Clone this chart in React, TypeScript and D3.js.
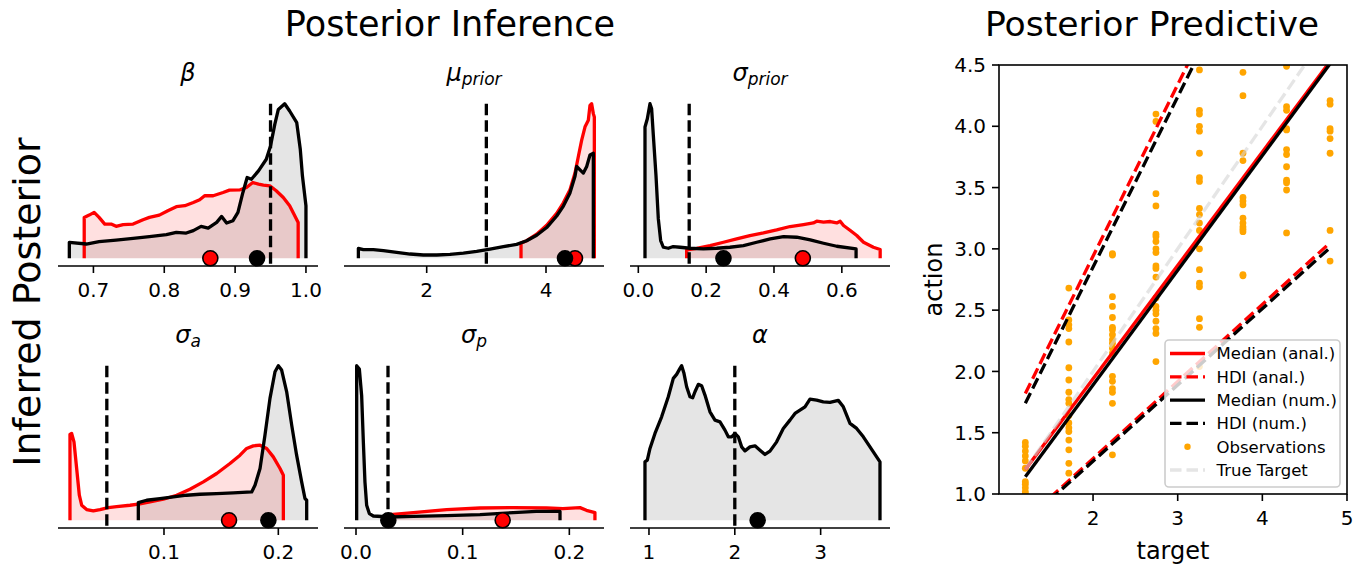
import React from "react";
import * as d3 from "d3";

// ---------------- Posterior densities (x grid, relative density) ----------------
// beta
const betaNumX = [0.666, 0.69, 0.708, 0.732, 0.756, 0.779, 0.803, 0.817, 0.831, 0.841, 0.852, 0.862, 0.874, 0.881, 0.888, 0.897, 0.904, 0.911, 0.917, 0.923, 0.933, 0.944, 0.95, 0.956, 0.961, 0.97, 0.977, 0.987, 0.992, 0.995, 1.0];
const betaNumD = [16, 14.3, 16.7, 18.3, 20, 21.7, 23.7, 26, 25.3, 27.7, 32, 30.3, 36, 42, 35.3, 37.7, 46, 66, 81, 79.3, 87.7, 99.3, 112.7, 134.3, 149.3, 155, 147.7, 136, 109.3, 82.7, 52.7];
const betaAnaX = [0.687, 0.694, 0.701, 0.708, 0.716, 0.725, 0.732, 0.742, 0.756, 0.77, 0.779, 0.793, 0.805, 0.817, 0.829, 0.841, 0.85, 0.857, 0.869, 0.883, 0.892, 0.907, 0.916, 0.925, 0.933, 0.94, 0.949, 0.958, 0.968, 0.977, 0.989];
const betaAnaD = [41, 43.3, 46, 41, 34.3, 34.3, 32, 33.7, 34.3, 38.7, 41, 43.3, 47.7, 51.7, 52.7, 56, 58.7, 62.7, 62.7, 66, 68.3, 68.7, 71, 76, 74.3, 73.3, 72.7, 67.7, 61, 52.7, 36];
const betaTrue = 0.95;
const betaMedNum = 0.931;
const betaMedAna = 0.865;
const betaTicks = [0.7, 0.8, 0.9, 1.0];
const betaTickLabels = ["0.7", "0.8", "0.9", "1.0"];

// mu_prior
const muNumX = [0.855, 0.939, 1.106, 1.274, 1.497, 1.721, 1.944, 2.168, 2.391, 2.615, 2.838, 3.061, 3.285, 3.508, 3.676, 3.844, 4.011, 4.179, 4.291, 4.402, 4.486, 4.514, 4.57, 4.626, 4.682, 4.737, 4.793];
const muNumD = [10, 8.7, 8.7, 7.7, 6, 4.3, 3.3, 3.3, 4, 5.3, 7, 9.3, 11.7, 14, 17.7, 23.3, 31, 42.7, 52.7, 66, 82.7, 92.7, 89.3, 86, 92.7, 104.3, 106];
const muAnaX = [3.581, 3.676, 3.844, 4.011, 4.179, 4.291, 4.402, 4.486, 4.542, 4.598, 4.654, 4.682, 4.709, 4.737, 4.765, 4.793, 4.81];
const muAnaD = [15.3, 17.7, 24.3, 33.3, 45.3, 56, 69.3, 86, 102.7, 119.3, 132.7, 136, 139.3, 154.3, 156, 146, 142.7];
const muTrue = 3.0;
const muMedNum = 4.318;
const muMedAna = 4.486;
const muTicks = [2, 4];
const muTickLabels = ["2", "4"];

// sigma_prior
const spNumX = [0.0197, 0.0266, 0.0344, 0.0393, 0.0443, 0.0521, 0.059, 0.0659, 0.0738, 0.0885, 0.103, 0.123, 0.152, 0.192, 0.231, 0.27, 0.31, 0.349, 0.389, 0.428, 0.467, 0.507, 0.546, 0.585, 0.642];
const spNumD = [131, 139.3, 154.3, 149.3, 122.7, 82.7, 39.3, 17.7, 11, 10, 11.7, 11, 10, 9.3, 10, 11, 12.7, 16, 19.3, 21.7, 21, 18.3, 15, 12, 9.3];
const spAnaX = [0.1426, 0.172, 0.2115, 0.251, 0.29, 0.329, 0.369, 0.408, 0.4475, 0.487, 0.516, 0.526, 0.546, 0.566, 0.585, 0.595, 0.605, 0.625, 0.644, 0.664, 0.693, 0.713];
const spAnaD = [8.3, 10, 12.7, 16, 19.3, 22.7, 25.3, 28.3, 31.7, 33.7, 35.3, 37, 36, 36.7, 35.3, 37, 32.7, 27.7, 22.7, 16, 11, 8.7];
const spTrue = 0.15;
const spMedNum = 0.251;
const spMedAna = 0.485;
const spTicks = [0.0, 0.2, 0.4, 0.6];
const spTickLabels = ["0.0", "0.2", "0.4", "0.6"];

// sigma_a
const saNumX = [0.07755, 0.08484, 0.0965, 0.1082, 0.1198, 0.1315, 0.1461, 0.1606, 0.1767, 0.1796, 0.184, 0.1883, 0.1927, 0.1971, 0.2, 0.2029, 0.2073, 0.2117, 0.216, 0.2204, 0.2233, 0.2248];
const saNumD = [17.7, 20, 21.7, 23.3, 25, 26, 26.7, 27.3, 28.3, 35, 51.7, 85, 121.7, 148.3, 154.3, 150, 128.3, 95, 65, 38.3, 21.7, 20];
const saAnaX = [0.01778, 0.01924, 0.02128, 0.02362, 0.02595, 0.028, 0.03236, 0.03819, 0.04402, 0.05131, 0.0586, 0.07026, 0.079, 0.08776, 0.09942, 0.1111, 0.1227, 0.1344, 0.1461, 0.1577, 0.1665, 0.1723, 0.1781, 0.184, 0.1898, 0.1956, 0.2015, 0.2044];
const saAnaD = [85.7, 86.7, 78.3, 51.7, 25, 15, 10.7, 9.3, 10.7, 12.7, 13.7, 15, 16.3, 18.3, 21, 25, 31, 38.3, 46.7, 56.7, 65, 71.7, 74.3, 75, 71.7, 63.3, 51.7, 45];
const saTrue = 0.05;
const saMedNum = 0.1913;
const saMedAna = 0.1569;
const saTicks = [0.1, 0.2];
const saTickLabels = ["0.1", "0.2"];

// sigma_p
const sgpNumX = [0.000625, 0.003125, 0.0053, 0.0069, 0.0084, 0.01, 0.0125, 0.01625, 0.0319, 0.05375, 0.085, 0.11625, 0.1475, 0.169, 0.19125];
const sgpNumD = [155, 151.7, 125, 78.3, 38.3, 15, 6.7, 4.3, 3.3, 4, 4.7, 5.7, 7.7, 9, 9];
const sgpAnaX = [0.0319, 0.05375, 0.085, 0.11625, 0.1475, 0.17875, 0.194, 0.21, 0.216, 0.224];
const sgpAnaD = [5.7, 7.7, 10.7, 12.3, 12.7, 12.3, 11.7, 12.7, 10, 7.7];
const sgpTrue = 0.03;
const sgpMedNum = 0.0303;
const sgpMedAna = 0.1375;
const sgpTicks = [0.0, 0.1, 0.2];
const sgpTickLabels = ["0.0", "0.1", "0.2"];

// alpha
const alNumX = [0.9534, 0.9806, 1.0117, 1.0699, 1.1476, 1.2252, 1.2835, 1.3223, 1.3612, 1.3806, 1.4078, 1.4388, 1.4777, 1.5087, 1.5359, 1.5748, 1.6136, 1.6524, 1.7107, 1.7689, 1.8272, 1.8854, 1.9243, 1.9631, 2.0019, 2.0408, 2.0796, 2.1184, 2.1767, 2.235, 2.2932, 2.3515, 2.4097, 2.4874, 2.565, 2.6427, 2.701, 2.7592, 2.8175, 2.8757, 2.9534, 3.0311, 3.1087, 3.2058, 3.2641, 3.3417, 3.4194, 3.4971, 3.5748, 3.6524, 3.6913];
const alNumD = [58.3, 60, 71.7, 86.7, 103.3, 123.3, 141.7, 145.7, 151.7, 154.3, 146.7, 133.3, 123.3, 122.3, 128.3, 135.7, 134.3, 125, 108.3, 100, 98.3, 90, 83.3, 83.3, 86.7, 83.3, 73.3, 69.3, 73.3, 74.3, 70, 65.7, 69, 78.3, 91.7, 100, 106.7, 110, 113.3, 121, 120, 118.3, 117.7, 119.7, 113.3, 96.7, 91.7, 83.3, 73.3, 63.3, 58.3];
const alTrue = 2.0;
const alMedNum = 2.266;
const alTicks = [1, 2, 3];
const alTickLabels = ["1", "2", "3"];

// ---------------- Posterior predictive ----------------
const obsTargets = [1.2, 1.714, 2.229, 2.743, 3.257, 3.771, 4.286, 4.8];
const obsCol1 = [1.42, 1.39, 1.35, 1.31, 1.27, 1.21, 1.1, 1.08, 1.05, 1.02, 1.0];
const obsCol2 = [2.68, 2.42, 2.38, 2.35, 2.24, 2.03, 1.93, 1.83, 1.77, 1.74, 1.64, 1.58, 1.54, 1.51, 1.44, 1.36, 1.25, 1.17];
const obsCol3 = [2.96, 2.95, 2.61, 2.53, 2.44, 2.36, 2.34, 2.3, 2.26, 2.23, 2.19, 2.15, 1.96, 1.92, 1.86, 1.83, 1.74, 1.32];
const obsCol4 = [4.1, 4.04, 3.45, 3.35, 3.12, 3.1, 3.06, 3.0, 2.97, 2.86, 2.84, 2.77, 2.6, 2.53, 2.5, 2.47, 2.41, 2.35, 2.31, 2.08];
const obsCol5 = [4.46, 4.13, 4.1, 4.0, 3.96, 3.78, 3.58, 3.55, 3.33, 3.28, 3.21, 3.15, 3.0, 2.83, 2.72, 2.69, 2.43, 2.36, 2.04];
const obsCol6 = [4.44, 4.25, 3.78, 3.72, 3.42, 3.39, 3.36, 3.25, 3.21, 3.18, 3.16, 3.14, 2.79, 2.78];
const obsCol7 = [4.49, 4.16, 4.13, 3.98, 3.97, 3.81, 3.77, 3.67, 3.56, 3.54, 3.48, 3.13];
const obsCol8 = [4.21, 4.18, 3.98, 3.96, 3.9, 3.78, 3.15, 2.9];
const obsColumns = [obsCol1, obsCol2, obsCol3, obsCol4, obsCol5, obsCol6, obsCol7, obsCol8];

const lineX = [1.2, 4.8];
const medianAnal = [1.2, 4.53];
const hdiAnalUpper = [1.82, 6.86];
const hdiAnalLower = [0.786, 3.05];
const medianNum = [1.14, 4.51];
const hdiNumUpper = [1.74, 6.74];
const hdiNumLower = [0.77, 3.01];
const trueTarget = [1.2, 4.8];

const predXTicks = [2, 3, 4, 5];
const predYTicks = [1.0, 1.5, 2.0, 2.5, 3.0, 3.5, 4.0, 4.5];
const legendLabels = ["Median (anal.)", "HDI (anal.)", "Median (num.)", "HDI (num.)", "Observations", "True Target"];

// ---------------- layout ----------------
const FONT = "DejaVu Sans";
const COLS = [58, 344, 630];
const W = 260;
const ROWS = [{ top: 96, bottom: 266 }, { top: 358, bottom: 528 }];
const LW = 3.3;
const DASH = "11.5,5";

type TitleSpec = { main: string; sub?: string };

type PanelSpec = {
  title: TitleSpec;
  domain: [number, number];
  numX: number[];
  numD: number[];
  anaX?: number[];
  anaD?: number[];
  truth: number;
  medNum: number;
  medAna?: number;
  ticks: number[];
  tickLabels: string[];
  col: number;
  row: number;
};

const panels: PanelSpec[] = [
  { title: { main: "β" }, domain: [0.65, 1.017], numX: betaNumX, numD: betaNumD, anaX: betaAnaX, anaD: betaAnaD, truth: betaTrue, medNum: betaMedNum, medAna: betaMedAna, ticks: betaTicks, tickLabels: betaTickLabels, col: 0, row: 0 },
  { title: { main: "μ", sub: "prior" }, domain: [0.614, 4.972], numX: muNumX, numD: muNumD, anaX: muAnaX, anaD: muAnaD, truth: muTrue, medNum: muMedNum, medAna: muMedAna, ticks: muTicks, tickLabels: muTickLabels, col: 1, row: 0 },
  { title: { main: "σ", sub: "prior" }, domain: [-0.0245, 0.742], numX: spNumX, numD: spNumD, anaX: spAnaX, anaD: spAnaD, truth: spTrue, medNum: spMedNum, medAna: spMedAna, ticks: spTicks, tickLabels: spTickLabels, col: 2, row: 0 },
  { title: { main: "σ", sub: "a" }, domain: [0.0073, 0.2347], numX: saNumX, numD: saNumD, anaX: saAnaX, anaD: saAnaD, truth: saTrue, medNum: saMedNum, medAna: saMedAna, ticks: saTicks, tickLabels: saTickLabels, col: 0, row: 1 },
  { title: { main: "σ", sub: "p" }, domain: [-0.01125, 0.2325], numX: sgpNumX, numD: sgpNumD, anaX: sgpAnaX, anaD: sgpAnaD, truth: sgpTrue, medNum: sgpMedNum, medAna: sgpMedAna, ticks: sgpTicks, tickLabels: sgpTickLabels, col: 1, row: 1 },
  { title: { main: "α" }, domain: [0.779, 3.808], numX: alNumX, numD: alNumD, truth: alTrue, medNum: alMedNum, ticks: alTicks, tickLabels: alTickLabels, col: 2, row: 1 },
];

type Pt = [number, number];

function DensityPanel({ p }: { p: PanelSpec }) {
  const left = COLS[p.col];
  const { top, bottom } = ROWS[p.row];
  const x = d3.scaleLinear().domain(p.domain).range([left, left + W]);
  const M = d3.max([...p.numD, ...(p.anaD || [])]) as number;
  const y = d3.scaleLinear().domain([-0.05 * M, 1.05 * M]).range([bottom, top]);
  const area = d3.area<Pt>().x((d) => x(d[0])).y0(y(0)).y1((d) => y(d[1]));
  const line = d3.line<Pt>().x((d) => x(d[0])).y((d) => y(d[1]));
  const pts = (xs: number[], ds: number[]): Pt[] => xs.map((v, i) => [v, ds[i]] as Pt);
  const closed = (ps: Pt[]): Pt[] => [[ps[0][0], 0], ...ps, [ps[ps.length - 1][0], 0]];
  const numPts = pts(p.numX, p.numD);
  const anaPts = p.anaX && p.anaD ? pts(p.anaX, p.anaD) : null;
  const cx = left + W / 2;
  return (
    <g>
      <path d={area(numPts) || ""} fill="#000" fillOpacity={0.1} />
      {anaPts && <path d={area(anaPts) || ""} fill="red" fillOpacity={0.12} />}
      {anaPts && <path d={line(closed(anaPts)) || ""} fill="none" stroke="red" strokeWidth={LW} strokeLinejoin="round" />}
      <path d={line(closed(numPts)) || ""} fill="none" stroke="#000" strokeWidth={LW} strokeLinejoin="round" />
      <line x1={x(p.truth)} x2={x(p.truth)} y1={y(M)} y2={bottom} stroke="#000" strokeWidth={LW} strokeDasharray={DASH} />
      {p.medAna !== undefined && <circle cx={x(p.medAna)} cy={y(0)} r={7.5} fill="red" stroke="#000" strokeWidth={1.6} />}
      <circle cx={x(p.medNum)} cy={y(0)} r={7.5} fill="#000" stroke="#000" strokeWidth={1.6} />
      <line x1={left} x2={left + W} y1={bottom} y2={bottom} stroke="#000" strokeWidth={1.6} />
      {p.ticks.map((t, i) => (
        <g key={i}>
          <line x1={x(t)} x2={x(t)} y1={bottom} y2={bottom + 7} stroke="#000" strokeWidth={1.6} />
          <text x={x(t)} y={bottom + 30.5} fontSize={20} textAnchor="middle" fill="#000">{p.tickLabels[i]}</text>
        </g>
      ))}
      <text x={cx} y={top - 15} fontSize={24} textAnchor="middle" fontStyle="italic" fill="#000">
        {p.title.main}
        {p.title.sub && <tspan fontSize={17} dy={4}>{p.title.sub}</tspan>}
      </text>
    </g>
  );
}

function Predictive() {
  const L = 999, R = 1347, T = 65, B = 494;
  const x = d3.scaleLinear().domain([0.889, 5.0]).range([L, R]);
  const y = d3.scaleLinear().domain([1.0, 4.5]).range([B, T]);
  const line = d3.line<Pt>().x((d) => x(d[0])).y((d) => y(d[1]));
  const seg = (ys: number[]) => line(lineX.map((v, i) => [v, ys[i]] as Pt)) || "";
  const lines = [
    { ys: medianAnal, color: "red", dash: undefined as string | undefined },
    { ys: hdiAnalUpper, color: "red", dash: DASH },
    { ys: hdiAnalLower, color: "red", dash: DASH },
    { ys: medianNum, color: "#000", dash: undefined },
    { ys: hdiNumUpper, color: "#000", dash: DASH },
    { ys: hdiNumLower, color: "#000", dash: DASH },
  ];
  const legX = 1165, legY = 340, legW = 175, legH = 147;
  const rowY = (i: number) => 353.5 + i * 23.3;
  return (
    <g>
      <defs>
        <clipPath id="predclip">
          <rect x={L} y={T} width={R - L} height={B - T} />
        </clipPath>
      </defs>
      <g clipPath="url(#predclip)">
        {obsColumns.map((col, j) =>
          col.map((v, i) => <circle key={`${j}-${i}`} cx={x(obsTargets[j])} cy={y(v)} r={3.4} fill="orange" />)
        )}
        {lines.map((l, i) => (
          <path key={i} d={seg(l.ys)} fill="none" stroke={l.color} strokeWidth={LW} strokeDasharray={l.dash} />
        ))}
        <path d={seg(trueTarget)} fill="none" stroke="#d3d3d3" strokeOpacity={0.6} strokeWidth={LW} strokeDasharray={DASH} />
      </g>
      <rect x={L} y={T} width={R - L} height={B - T} fill="none" stroke="#000" strokeWidth={1.6} />
      {predXTicks.map((t) => (
        <g key={t}>
          <line x1={x(t)} x2={x(t)} y1={B} y2={B + 7} stroke="#000" strokeWidth={1.6} />
          <text x={x(t)} y={B + 30.5} fontSize={20} textAnchor="middle">{String(t)}</text>
        </g>
      ))}
      {predYTicks.map((t) => (
        <g key={t}>
          <line x1={L - 7} x2={L} y1={y(t)} y2={y(t)} stroke="#000" strokeWidth={1.6} />
          <text x={L - 13} y={y(t)} dy="0.36em" fontSize={20} textAnchor="end">{t.toFixed(1)}</text>
        </g>
      ))}
      <text x={(L + R) / 2} y={559} fontSize={24} textAnchor="middle">target</text>
      <text transform={`translate(942,${(T + B) / 2}) rotate(-90)`} fontSize={24} textAnchor="middle">action</text>
      <rect x={legX} y={legY} width={legW} height={legH} rx={4} fill="#fff" fillOpacity={0.8} stroke="#cccccc" strokeWidth={1.6} />
      {legendLabels.map((lab, i) => {
        const yy = rowY(i);
        let sym: React.ReactNode = null;
        if (i === 0) sym = <line x1={1170} x2={1205} y1={yy} y2={yy} stroke="red" strokeWidth={LW} />;
        if (i === 1) sym = <line x1={1170} x2={1205} y1={yy} y2={yy} stroke="red" strokeWidth={LW} strokeDasharray={DASH} />;
        if (i === 2) sym = <line x1={1170} x2={1205} y1={yy} y2={yy} stroke="#000" strokeWidth={LW} />;
        if (i === 3) sym = <line x1={1170} x2={1205} y1={yy} y2={yy} stroke="#000" strokeWidth={LW} strokeDasharray={DASH} />;
        if (i === 4) sym = <circle cx={1187.5} cy={yy} r={3.2} fill="orange" />;
        if (i === 5) sym = <line x1={1170} x2={1205} y1={yy} y2={yy} stroke="#d3d3d3" strokeOpacity={0.6} strokeWidth={LW} strokeDasharray={DASH} />;
        return (
          <g key={i}>
            {sym}
            <text x={1216.5} y={yy} dy="0.36em" fontSize={16.5}>{lab}</text>
          </g>
        );
      })}
    </g>
  );
}

export default function App() {
  return (
    <svg width={1370} height={574} style={{ position: "absolute", left: 0, top: 0, fontFamily: FONT }}>
      <rect x={0} y={0} width={1370} height={574} fill="#fff" />
      <text x={450} y={36} fontSize={35} textAnchor="middle">Posterior Inference</text>
      <text x={1152} y={36} fontSize={34.6} textAnchor="middle">Posterior Predictive</text>
      <text transform="translate(40,302) rotate(-90)" fontSize={38} textAnchor="middle">Inferred Posterior</text>
      {panels.map((p, i) => <DensityPanel key={i} p={p} />)}
      <Predictive />
    </svg>
  );
}
